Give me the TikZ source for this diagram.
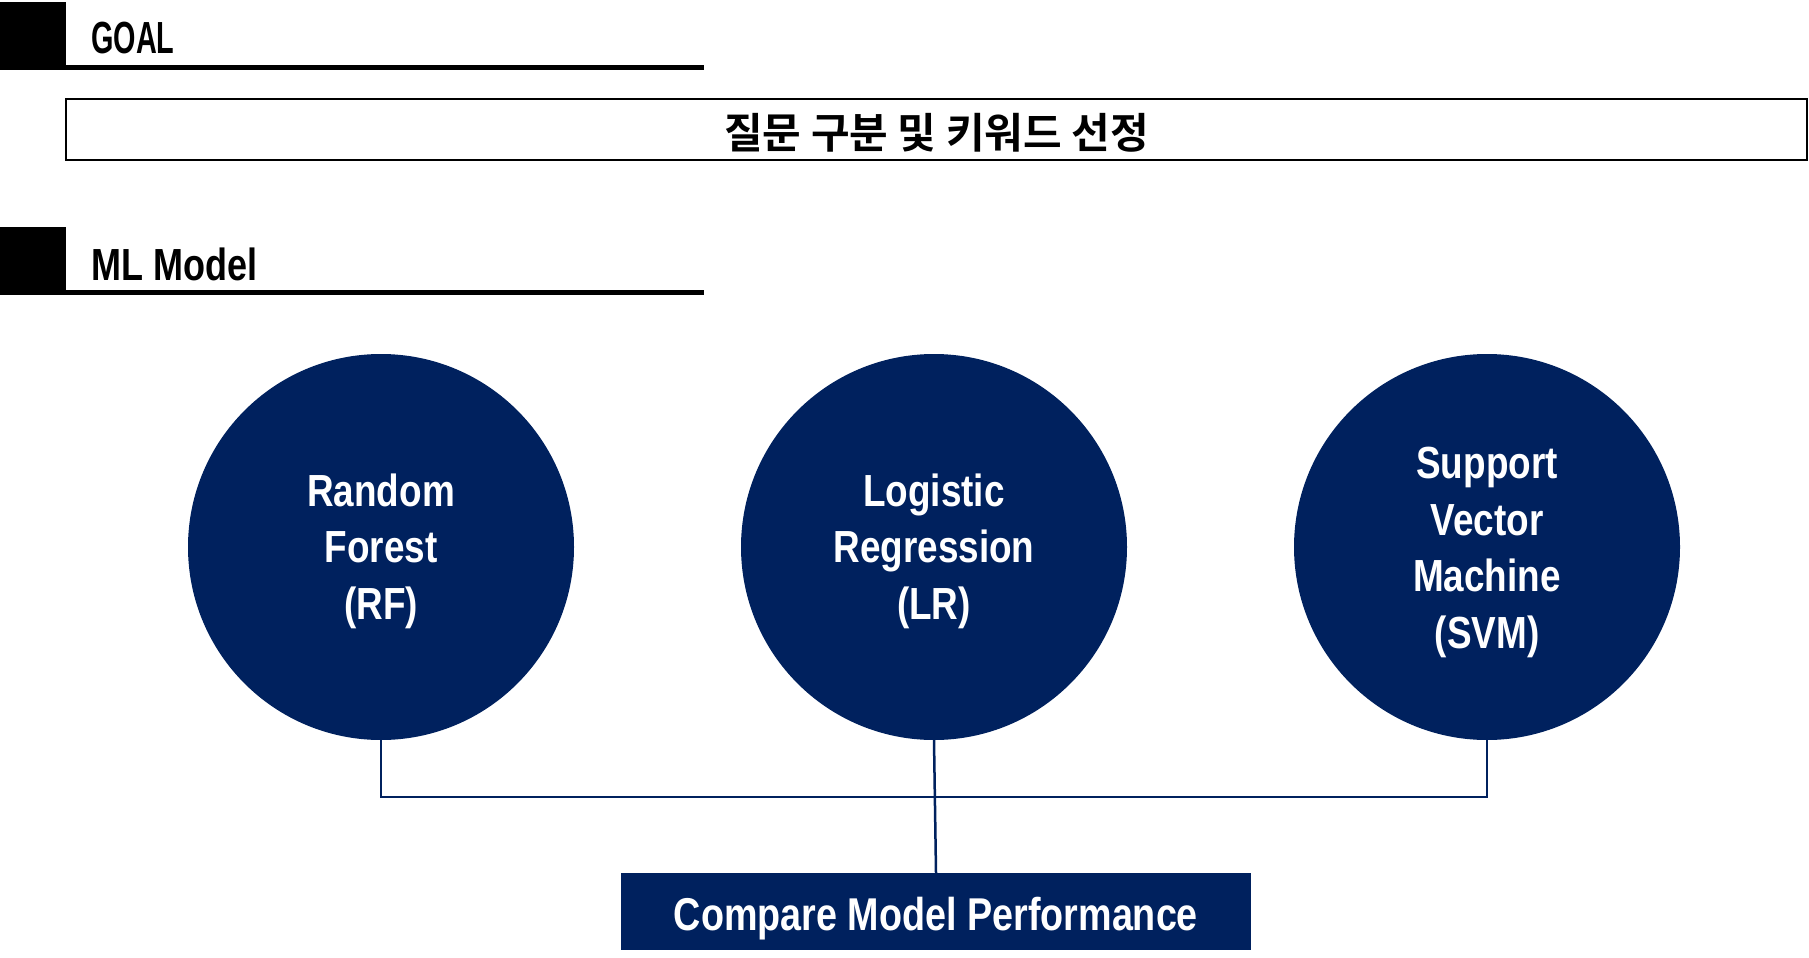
\documentclass[tikz,border=0pt]{standalone}
\usepackage{fontspec}
\setmainfont{Liberation Sans}
\newfontfamily\condfont[FakeStretch=0.82]{Liberation Sans Bold}
\newfontfamily\goalfont[FakeStretch=0.64]{Liberation Sans Bold}
\newfontfamily\mlfont[FakeStretch=0.80]{Liberation Sans Bold}
\newfontfamily\krfont{Noto Sans CJK KR Bold}
\definecolor{navy}{RGB}{0,33,94}
\newcommand\lowerby[2]{\raisebox{-#1}[\height][\depth]{#2}}
\newcommand\stacklines[1]{\begin{tabular}{@{}c@{}}#1\end{tabular}}
\begin{document}
\begin{tikzpicture}[x=1pt,y=-1pt,
  headtxt/.style={anchor=west,inner sep=0pt},
  model/.style={circle,fill=navy,minimum size=386pt,inner sep=0pt,text=white,align=center,
    font=\condfont\fontsize{45}{56.5}\selectfont},
  conn/.style={draw=navy,line width=2.5pt},
  goalbox/.style={draw=black,line width=2.5pt,minimum width=1741pt,minimum height=61pt,inner sep=0pt,
    font=\krfont\fontsize{42}{46}\selectfont},
  cmpbox/.style={fill=navy,minimum width=630pt,minimum height=77pt,inner sep=0pt,text=white,
    font=\condfont\fontsize{46}{50}\selectfont}]
\useasboundingbox (0,0) rectangle (1809,958);
% headers
\fill[black] (0,2) rectangle (66,69);
\draw[line width=4.5pt] (0,67.5) -- (704,67.5);
\node[headtxt,font=\goalfont\fontsize{45}{50}\selectfont] (goal) at (91,38) {GOAL};
\fill[black] (0,227) rectangle (66,294);
\draw[line width=4.5pt] (0,292.5) -- (704,292.5);
\node[headtxt,font=\mlfont\fontsize{45}{50}\selectfont] (ml) at (91,264) {ML Model};
% goal box
\node[goalbox] (gbox) at (936.5,129.5) {\lowerby{3.5pt}{질문 구분 및 키워드 선정}};
% models
\node[model] (rf) at (381,547) {\lowerby{4.5pt}{\stacklines{Random\\Forest\\(RF)}}};
\node[model] (lr) at (934,547) {\lowerby{4.5pt}{\stacklines{Logistic\\Regression\\(LR)}}};
\node[model] (svm) at (1487,547) {\lowerby{5pt}{\stacklines{Support\\Vector\\Machine\\(SVM)}}};
% compare box
\node[cmpbox] (cmp) at (936,911.5) {\lowerby{7pt}{Compare Model Performance}};
% connectors
\coordinate (j) at (934,797);
\draw[conn] (rf.south) |- (j) -| (svm.south);
\draw[conn] (lr.south) -- (cmp.north);
\end{tikzpicture}
\end{document}
